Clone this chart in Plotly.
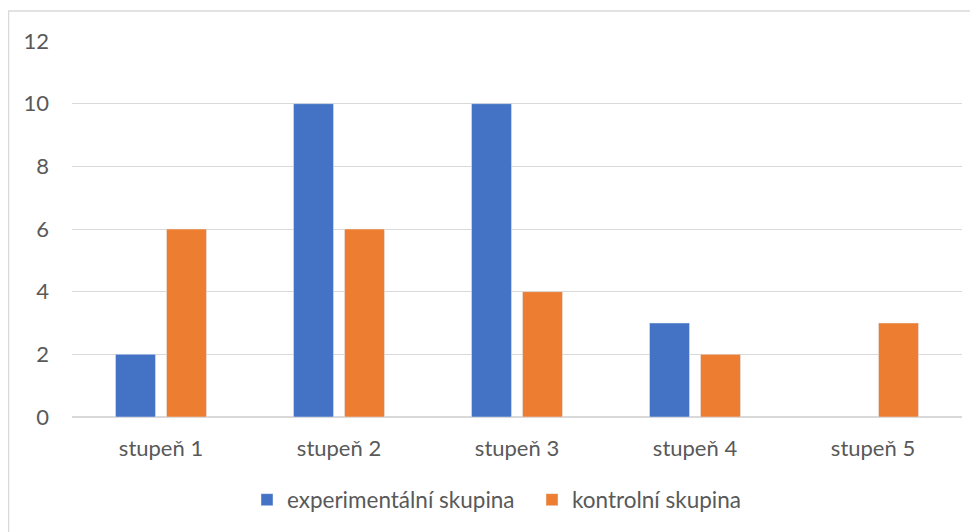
import plotly.graph_objects as go

categories = ["stupeň 1", "stupeň 2", "stupeň 3", "stupeň 4", "stupeň 5"]
experimental = [2, 10, 10, 3, None]
control = [6, 6, 4, 2, 3]
series_names = ["experimentální skupina", "kontrolní skupina"]
y_ticks = [0, 2, 4, 6, 8, 10, 12]

fig = go.Figure()
fig.add_trace(go.Bar(x=categories, y=experimental, name=series_names[0], marker_color="#4472C4"))
fig.add_trace(go.Bar(x=categories, y=control, name=series_names[1], marker_color="#ED7D31"))

OFF = 8  # page body margin
W, H = 978 - OFF, 532 - OFF
L, R, T, B = 72 - OFF, 962 - OFF, 41 - OFF, 418 - OFF
pw, ph = R - L, B - T

fig.update_layout(
    width=W, height=H,
    margin=dict(l=L, r=W - R, t=T, b=H - B, pad=0),
    paper_bgcolor="white", plot_bgcolor="white",
    barmode="group", bargap=0.427, bargroupgap=0.216,
    font=dict(family="Lato, Calibri, sans-serif", size=22, color="#595959"),
    legend=dict(orientation="h", x=(239 - L) / pw, xanchor="left", y=(B - 492) / ph, yanchor="middle",
                font=dict(size=22.5, color="#595959"), itemwidth=30, traceorder="normal",
                entrywidth=240, entrywidthmode="pixels"),
    xaxis=dict(showgrid=False, showline=False, ticks="", ticklabelstandoff=16, zeroline=False),
    yaxis=dict(range=[0, 12], tickvals=y_ticks, showgrid=True, gridcolor="#D9D9D9", gridwidth=1,
               zeroline=True, zerolinecolor="#D9D9D9", zerolinewidth=2, showline=False,
               ticks="", ticklabelstandoff=22),
    shapes=[dict(type="rect", xref="paper", yref="paper",
                 x0=(0.5 - L) / pw, x1=(W + 20 - L) / pw,
                 y0=(B - (H + 20)) / ph, y1=(B - 3) / ph,
                 line=dict(color="#D9D9D9", width=1.5), fillcolor="rgba(0,0,0,0)", layer="below")],
)

fig.write_html("out.html")
